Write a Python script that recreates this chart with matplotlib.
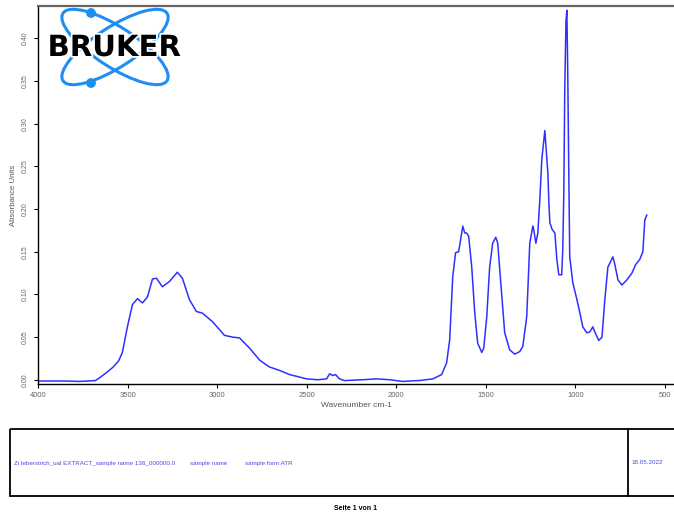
import matplotlib
matplotlib.use("Agg")
import matplotlib.pyplot as plt
from matplotlib.patches import Ellipse, Circle, Rectangle
import matplotlib.patheffects as pe

plt.rcParams['font.family'] = ['Liberation Sans', 'DejaVu Sans']

# spectrum (wavenumber cm-1, absorbance units)
wavenumber = [4000, 3900, 3850, 3770, 3680, 3658, 3620, 3585, 3550, 3529,
              3501, 3473, 3445, 3417, 3389, 3361, 3339, 3306, 3267, 3222,
              3194, 3155, 3116, 3082, 3026, 2959, 2915, 2875, 2819, 2763,
              2709, 2653, 2595, 2557, 2501, 2439, 2389, 2372, 2356, 2339,
              2317, 2289, 2188, 2110, 2037, 1965, 1886, 1870, 1797, 1747,
              1719, 1702, 1685, 1669, 1652, 1635, 1629, 1618, 1607, 1596,
              1579, 1562, 1546, 1523, 1512, 1495, 1479, 1462, 1445, 1434,
              1417, 1395, 1367, 1339, 1311, 1294, 1272, 1255, 1238, 1233,
              1221, 1210, 1199, 1188, 1171, 1154, 1148, 1143, 1130, 1115,
              1104, 1093, 1077, 1071, 1065, 1060, 1053, 1048, 1043, 1037,
              1032, 1015, 992, 975, 959, 937, 920, 903, 892, 870,
              852, 836, 819, 791, 780, 763, 741, 713, 685, 664,
              641, 624, 613, 602]
absorbance = [-0.0015, -0.0015, -0.0015, -0.002, -0.001, 0.002, 0.008, 0.014, 0.022, 0.032,
              0.062, 0.088, 0.095, 0.090, 0.097, 0.118, 0.119, 0.109, 0.115, 0.126,
              0.119, 0.094, 0.080, 0.078, 0.068, 0.052, 0.050, 0.049, 0.037, 0.023,
              0.015, 0.011, 0.006, 0.004, 0.001, 0.000, 0.001, 0.007, 0.005, 0.006,
              0.001, -0.001, 0.000, 0.001, 0.000, -0.002, -0.001, -0.001, 0.001, 0.006,
              0.020, 0.047, 0.121, 0.149, 0.150, 0.172, 0.180, 0.172, 0.172, 0.168,
              0.132, 0.078, 0.043, 0.032, 0.037, 0.074, 0.132, 0.160, 0.167, 0.160,
              0.114, 0.055, 0.035, 0.030, 0.033, 0.039, 0.074, 0.160, 0.180, 0.176,
              0.160, 0.172, 0.211, 0.258, 0.292, 0.242, 0.205, 0.184, 0.176, 0.172,
              0.141, 0.123, 0.123, 0.152, 0.219, 0.336, 0.420, 0.433, 0.359, 0.238,
              0.144, 0.114, 0.094, 0.078, 0.062, 0.055, 0.056, 0.062, 0.056, 0.046,
              0.050, 0.094, 0.132, 0.144, 0.135, 0.117, 0.111, 0.117, 0.125, 0.135,
              0.141, 0.150, 0.187, 0.193]

x_ticks = [4000, 3500, 3000, 2500, 2000, 1500, 1000, 500]
y_ticks = [0.00, 0.05, 0.10, 0.15, 0.20, 0.25, 0.30, 0.35, 0.40]

footer_name = "Zi leberstrich_ual EXTRACT_sample name 136_000000.0"
footer_sample = "sample name"
footer_form = "sample form ATR"
footer_date = "18.05.2022"
page_text = "Seite 1 von 1"

W, H = 674, 512
fig = plt.figure(figsize=(W / 100, H / 100), dpi=100)

ax = fig.add_axes([38 / W, (H - 384) / H, 1 - 38 / W, 378 / H])
ax.plot(wavenumber, absorbance, color='#2f2fff', lw=1.1)
ax.set_xlim(4000, 450)
ax.set_ylim(-0.005, 0.438)
ax.set_xticks(x_ticks)
ax.set_xticklabels([str(v) for v in x_ticks])
ax.set_yticks(y_ticks)
ax.set_yticklabels(["%.2f" % v for v in y_ticks], rotation=90, va='center')
ax.tick_params(axis='both', direction='out', length=3, width=0.8,
               colors='black', labelcolor='#666666')
ax.tick_params(axis='x', labelsize=5.5, pad=3)
ax.tick_params(axis='y', labelsize=5, pad=4)
ax.set_xlabel("Wavenumber cm-1", fontsize=6, color='#555555', labelpad=2)
ax.set_ylabel("Absorbance Units", fontsize=5.6, color='#555555', labelpad=3)
ax.spines['right'].set_visible(False)
ax.spines['top'].set_color('#666666')
ax.spines['top'].set_linewidth(1.6)
ax.spines['left'].set_linewidth(1.0)
ax.spines['bottom'].set_linewidth(1.0)

# overlay in pixel units for logo and footer
ov = fig.add_axes([0, 0, 1, 1])
ov.set_xlim(0, W)
ov.set_ylim(H, 0)
ov.axis('off')
ov.patch.set_alpha(0)

logo_blue = '#1f8ef1'
for ang in (33, -33):
    ov.add_patch(Ellipse((115, 47), 124, 40, angle=ang, fill=False,
                         ec=logo_blue, lw=2.2))
ov.add_patch(Circle((91, 13), 4.2, color=logo_blue))
ov.add_patch(Circle((91, 83), 4.2, color=logo_blue))
ov.text(114, 48, "BRUKER", family='DejaVu Sans', fontweight='bold',
        fontsize=21, color='black', ha='center', va='center',
        path_effects=[pe.withStroke(linewidth=2.5, foreground='white')])

ov.add_patch(Rectangle((9.5, 429), 700, 67, fill=False, ec='black',
                       lw=1.3, clip_on=False))
ov.plot([628, 628], [429, 496], color='black', lw=1.3)
ov.text(14, 463, footer_name, fontsize=4.5, color='#4a4ae0', va='center')
ov.text(190, 463, footer_sample, fontsize=4.5, color='#4a4ae0', va='center')
ov.text(245, 463, footer_form, fontsize=4.5, color='#4a4ae0', va='center')
ov.text(631, 463, footer_date, fontsize=4.5, color='#4a4ae0', va='center')
ov.text(355, 508, page_text, fontsize=5, fontweight='bold', color='black',
        ha='center', va='center')

fig.savefig("out.png", dpi=100)
